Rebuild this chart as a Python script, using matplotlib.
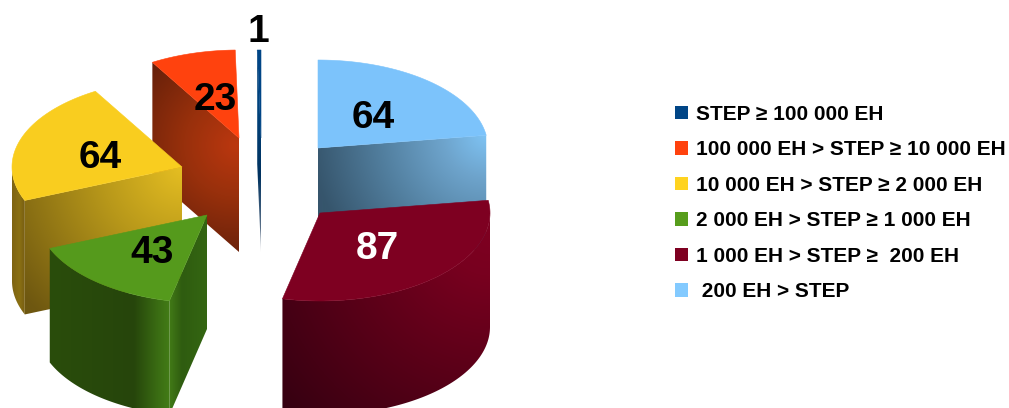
import numpy as np
import matplotlib
matplotlib.use("Agg")
import matplotlib.pyplot as plt
from matplotlib.colors import to_rgb
from matplotlib.patches import Patch, Polygon

# ---- data (clockwise from 12 o'clock) ----
categories = [" 200 EH > STEP", "1 000 EH > STEP \u2265  200 EH", "2 000 EH > STEP \u2265 1 000 EH",
              "10 000 EH > STEP \u2265 2 000 EH", "100 000 EH > STEP \u2265 10 000 EH", "STEP \u2265 100 000 EH"]
values = [64, 87, 43, 64, 23, 1]
colors = ["#7cc3fb", "#7e0021", "#559a1c", "#f9cd1f", "#ff420e", "#004586"]
legend_colors = ["#83caff", "#7e0021", "#579d1c", "#ffd320", "#ff420e", "#004586"]
label_colors = ["black", "white", "black", "black", "black", "black"]

# ---- style / layout ----
plt.rcParams["font.family"] = ["Liberation Sans", "DejaVu Sans"]
RX, RY, DEPTH = 170, 88, 114
centres = [(318, 148), (320, 213), (207, 215), (182, 167), (239, 138), (261, 138)]
label_pos = [(373, 118), (377, 249), (152, 253), (100, 158), (215, 100), (258, 32)]
draw_order = [5, 4, 3, 2, 0, 1]

# light point (x, y, scale x, scale y), colour stops
outer_style = {
    1: ((490, 232, 290, 290), [(0, "#7e0021"), (.15, "#78001f"), (.5, "#5a0018"), (1, "#300010")]),
    2: ((50, 0, 119, 1e5), [(0, "#2a4d0c"), (.7, "#26450b"), (.9, "#3a6c13"), (1, "#437c17")]),
    3: ((12, 0, 12, 1e5), [(0, "#7f6412"), (.6, "#8a7013"), (1, "#7a6012")]),
}
edge_style = {
    0: ((486, 134, 175, 175), [(0, "#7fc4f5"), (.25, "#6ea4cc"), (.6, "#527f9f"), (1, "#36556c")]),
    2: ((169, 0, 38, 1e5), [(0, "#437c17"), (.35, "#2f5c10"), (1, "#346612")]),
    3: ((182, 167, 205, 205), [(0, "#e6bf22"), (.4, "#b8981a"), (1, "#6e5710")]),
    4: ((236, 145, 115, 115), [(0, "#bb370f"), (.45, "#98300c"), (1, "#66200a")]),
    5: ((259, 100, 150, 150), [(0, "#00447f"), (.5, "#00325f"), (.85, "#5a7088"), (1, "#c8ccd2")]),
}


def point(c, deg, r=1.0):
    a = np.radians(deg)
    return np.array([c[0] + RX * r * np.sin(a), c[1] - RY * r * np.cos(a)])


def arc(c, a0, a1, n=80):
    return np.array([point(c, a) for a in np.linspace(a0, a1, n)])


def grad_fill(ax, poly, spec, zorder):
    (lx, ly, sx, sy), stops = spec
    x0, y0 = poly.min(axis=0) - 1
    x1, y1 = poly.max(axis=0) + 1
    xs = np.arange(x0, x1, 0.5)
    ys = np.arange(y0, y1, 0.5)
    X, Y = np.meshgrid(xs, ys)
    t = np.clip(np.hypot((X - lx) / sx, (Y - ly) / sy), 0, 1)
    pos = [s[0] for s in stops]
    rgb = np.array([to_rgb(s[1]) for s in stops])
    img = np.dstack([np.interp(t, pos, rgb[:, i]) for i in range(3)])
    im = ax.imshow(img, extent=(x0, x1, y1, y0), aspect="auto", zorder=zorder, interpolation="bilinear")
    patch = Polygon(poly, closed=True, transform=ax.transData, facecolor="none", edgecolor="none")
    im.set_clip_path(patch)


fig = plt.figure(figsize=(10.09, 4.08), dpi=100)
ax = fig.add_axes([0, 0, 1, 1])

total = sum(values)
edges = np.concatenate([[0], np.cumsum(values)]) * 360.0 / total
down = np.array([0, DEPTH])
z = 1
for i in draw_order:
    a0, a1 = edges[i], edges[i + 1]
    c = centres[i]
    apex = np.array(c, float)
    # cut faces turned toward the viewer
    for ang, visible in ((a0, 180 < a0 < 360), (a1, 0 < a1 < 180)):
        if visible and i in edge_style:
            p = point(c, ang)
            grad_fill(ax, np.array([apex, p, p + down, apex + down]), edge_style[i], z)
            z += 1
    # outer curved wall, front half only
    f0, f1 = max(a0, 90), min(a1, 270)
    if f1 > f0 and i in outer_style:
        top = arc(c, f0, f1)
        grad_fill(ax, np.vstack([top, (top + down)[::-1]]), outer_style[i], z)
        z += 1
    # top surface
    ax.add_patch(Polygon(np.vstack([apex, arc(c, a0, a1)]), closed=True, facecolor=colors[i],
                         edgecolor=colors[i], linewidth=0.4, zorder=z))
    z += 1

for v, pos, col in zip(values, label_pos, label_colors):
    ax.text(pos[0], pos[1], str(v), color=col, fontsize=28, fontweight="bold",
            ha="center", va="center", zorder=100)

handles = [Patch(facecolor=legend_colors[i], edgecolor="none", label=categories[i]) for i in range(5, -1, -1)]
ax.legend(handles=handles, loc="upper left", bbox_to_anchor=(675, 105), bbox_transform=ax.transData,
          frameon=False, labelspacing=0.79, handlelength=0.63, handleheight=0.63,
          handletextpad=0.38, borderpad=0, borderaxespad=0,
          prop={"weight": "bold", "size": 15})

ax.set_xlim(0, 1009)
ax.set_ylim(408, 0)
ax.axis("off")
fig.savefig("out.png", dpi=100, facecolor="white")
